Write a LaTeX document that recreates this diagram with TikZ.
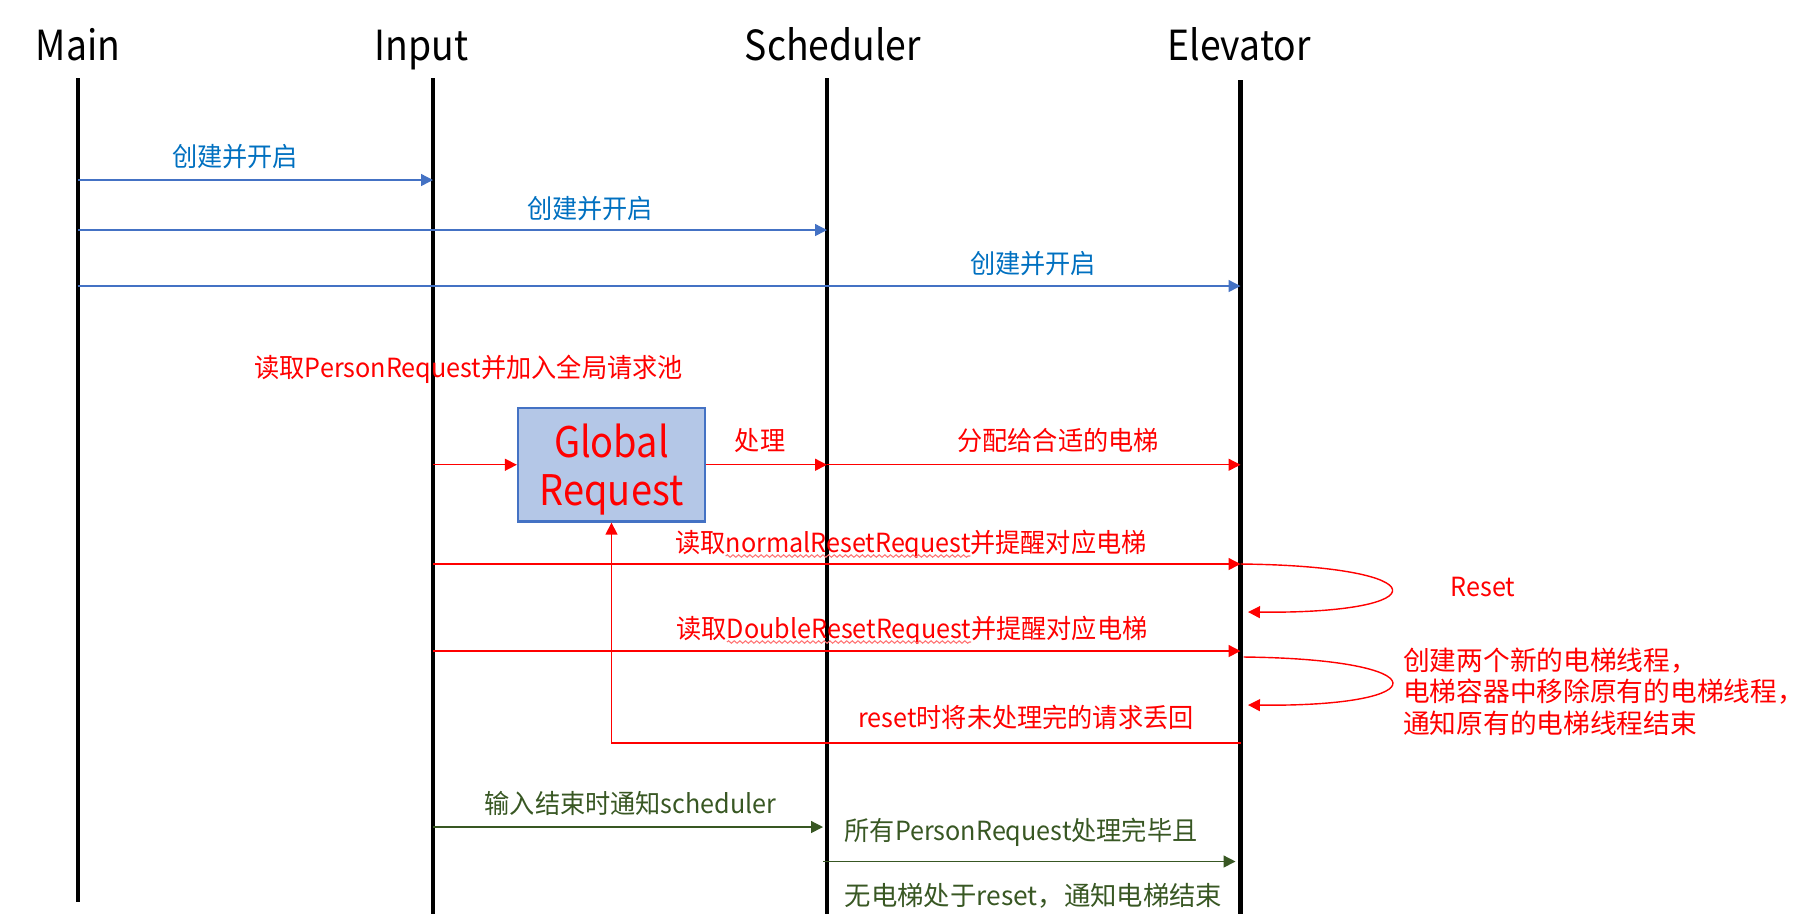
\documentclass[tikz,border=0pt]{standalone}
\usepackage{fontspec}
\setmainfont{Noto Sans CJK SC}
\newfontfamily\headfont[FakeStretch=0.9]{Noto Sans CJK SC}
\newfontfamily\notefont[FakeStretch=0.955]{Noto Sans CJK SC}
\usetikzlibrary{arrows.meta,decorations.pathmorphing}

\definecolor{lineblue}{RGB}{68,114,196}
\definecolor{textblue}{RGB}{0,112,192}
\definecolor{boxblue}{RGB}{180,199,231}
\definecolor{darkgreen}{RGB}{56,87,35}

\begin{document}
\begin{tikzpicture}[
    head/.style={font=\headfont\fontsize{11.8pt}{14pt}\selectfont, anchor=base, inner sep=0pt},
    note/.style={font=\notefont\fontsize{7.5pt}{9pt}\selectfont, anchor=base, inner sep=0pt},
    life/.style={line width=1.15pt},
    msg/.style={line width=0.4pt, -{Triangle[length=3.4pt,width=3.4pt]}},
    spell/.style={red!55, line width=0.3pt, decorate,
      decoration={snake, amplitude=0.35pt, segment length=1.6pt}}
  ]
  \useasboundingbox (0,0) rectangle (18.01,-9.14);

  % participants
  \node[head] (main) at (0.78,-0.605) {Main};
  \node[head] (input) at (4.215,-0.605) {Input};
  \node[head] (sched) at (8.33,-0.605) {Scheduler};
  \node[head] (elev) at (12.39,-0.605) {Elevator};

  \coordinate (mainTop) at (0.78,-0.78);
  \coordinate (mainEnd) at (0.78,-9.02);
  \coordinate (inputTop) at (4.33,-0.78);
  \coordinate (inputEnd) at (4.33,-9.14);
  \coordinate (schedTop) at (8.27,-0.78);
  \coordinate (schedEnd) at (8.27,-9.14);
  \coordinate (elevTop) at (12.405,-0.80);
  \coordinate (elevEnd) at (12.405,-9.14);

  \draw[life] (mainTop) -- (mainEnd);
  \draw[life] (inputTop) -- (inputEnd);
  \draw[life] (schedTop) -- (schedEnd);
  \draw[life] (elevTop) -- (elevEnd);

  % message levels
  \coordinate (y1) at (0,-1.80);
  \coordinate (y2) at (0,-2.30);
  \coordinate (y3) at (0,-2.86);
  \coordinate (y4) at (0,-5.64);
  \coordinate (y5) at (0,-6.51);
  \coordinate (y6) at (0,-7.43);
  \coordinate (y7) at (0,-8.27);
  \coordinate (y8) at (0,-8.615);

  % start threads
  \draw[msg, lineblue] (mainTop |- y1) -- (inputTop |- y1);
  \node[note, textblue] (start1) at (2.35,-1.66) {创建并开启};
  \draw[msg, lineblue] (mainTop |- y2) -- (schedTop |- y2);
  \node[note, textblue] (start2) at (5.90,-2.18) {创建并开启};
  \draw[msg, lineblue] (mainTop |- y3) -- (elevTop |- y3);
  \node[note, textblue] (start3) at (10.33,-2.73) {创建并开启};

  % global request pool
  \node[note, red] (readp) at (4.686,-3.775) {读取PersonRequest并加入全局请求池};
  \node[draw=lineblue, line width=0.65pt, fill=boxblue, minimum width=1.87cm,
    minimum height=1.135cm, inner sep=0pt, align=center, text=red, text depth=0pt,
    font=\headfont\fontsize{12pt}{13.6pt}\selectfont] (pool) at (6.115,-4.6475) {Global\\Request};
  \draw[msg, red] (inputTop |- pool.west) -- (pool.west);
  \draw[msg, red] (pool.east) -- (schedTop |- pool.east);
  \node[note, red] (handle) at (7.60,-4.50) {处理};
  \draw[msg, red] (schedTop |- pool.east) -- (elevTop |- pool.east);
  \node[note, red] (assign) at (10.58,-4.50) {分配给合适的电梯};

  % resets
  \draw[msg, red] (inputTop |- y4) -- (elevTop |- y4);
  \node[note, red] (normal) at (9.11,-5.52) {读取normalResetRequest并提醒对应电梯};
  \draw[spell] ([xshift=0.51cm,yshift=-0.04cm]normal.base west)
    -- ([xshift=-1.77cm,yshift=-0.04cm]normal.base east);
  \coordinate (back1) at (12.48,-6.12);
  \draw[msg, red] (elevTop |- y4) .. controls (14.4,-5.66) and (14.4,-6.14) .. (back1);
  \node[note, red] (reset) at (14.83,-5.96) {Reset};

  \draw[msg, red] (inputTop |- y5) -- (elevTop |- y5);
  \node[note, red] (double) at (9.12,-6.38) {读取DoubleResetRequest并提醒对应电梯};
  \draw[spell] ([xshift=0.51cm,yshift=-0.04cm]double.base west)
    -- ([xshift=-1.77cm,yshift=-0.04cm]double.base east);
  \coordinate (back2) at (12.48,-7.05);
  \draw[msg, red] ([xshift=0.03cm]elevTop |- 0,-6.57) .. controls (14.4,-6.59) and (14.4,-7.07) .. (back2);
  \node[note, red, anchor=north west, align=left,
    font=\fontsize{7.6pt}{8.96pt}\selectfont] (dnote) at (14.025,-6.47)
    {创建两个新的电梯线程，\\电梯容器中移除原有的电梯线程，\\通知原有的电梯线程结束};

  \draw[msg, red] (elevTop |- y6) -| (pool.south);
  \node[note, red] (giveback) at (10.26,-7.27) {reset时将未处理完的请求丢回};

  % finish
  \draw[msg, darkgreen] (inputTop |- y7) -- ([xshift=-0.04cm]schedTop |- y7);
  \node[note, darkgreen] (endin) at (6.306,-8.13) {输入结束时通知scheduler};
  \draw[msg, darkgreen] ([xshift=-0.04cm]schedTop |- y8) -- ([xshift=-0.05cm]elevTop |- y8);
  \node[note, darkgreen, anchor=base west] (done1) at (8.44,-8.405) {所有PersonRequest处理完毕且};
  \node[note, darkgreen, anchor=base west, font=\fontsize{7.5pt}{9pt}\selectfont] (done2) at (8.44,-9.05) {无电梯处于reset，通知电梯结束};
\end{tikzpicture}
\end{document}
